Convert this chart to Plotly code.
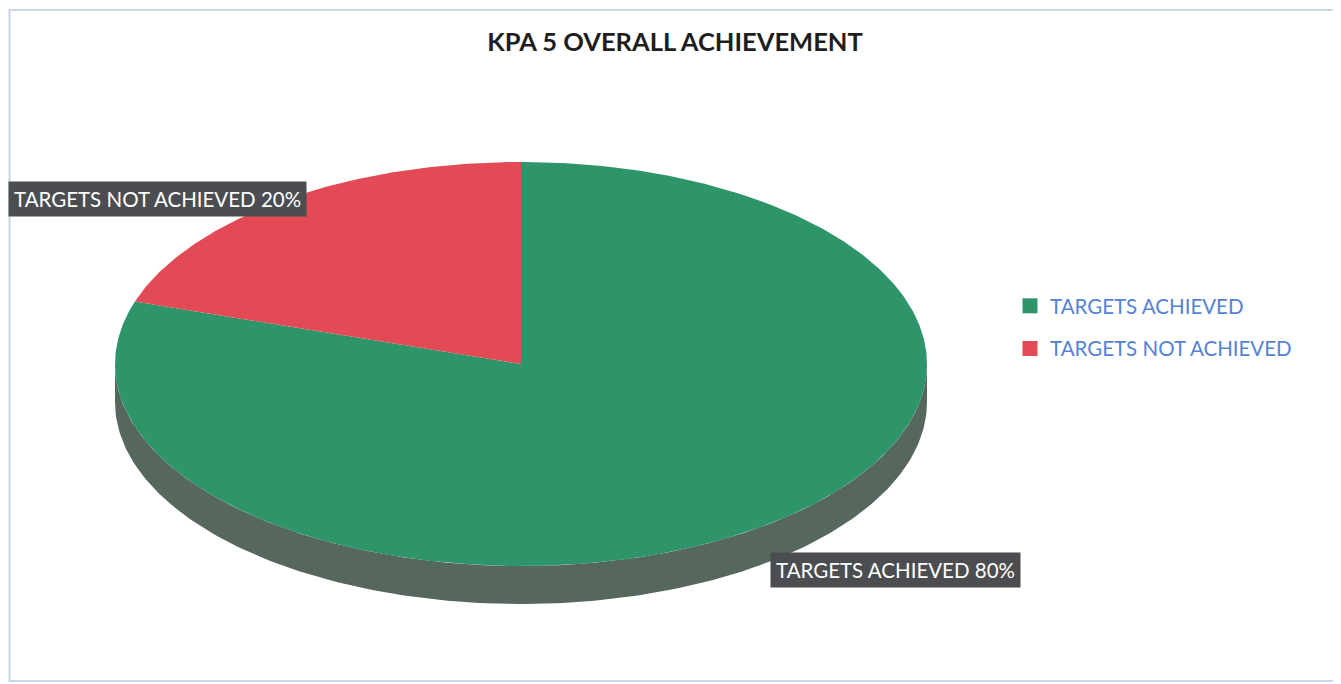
import numpy as np
import plotly.graph_objects as go

# ---- data ----
categories = ["TARGETS ACHIEVED", "TARGETS NOT ACHIEVED"]
values = [80, 20]
title_text = "KPA 5 OVERALL ACHIEVEMENT"

# ---- style ----
slice_colors = ["#2e9469", "#e24b56"]
side_color = "#56685d"
OFF = 8                      # page body margin
W, H = 1341 - OFF, 684 - OFF
CX, CY, RX, RY, DEPTH = 521, 364, 406, 202, 38
FONT = "Lato"

def px(x):   # screen x -> paper x
    return (x - OFF) / W

def py(y):   # screen y -> paper y
    return 1 - (y - OFF) / H

def ellipse_xy(theta_deg, dy=0.0):
    t = np.radians(theta_deg)
    return CX + RX * np.sin(t), CY - RY * np.cos(t) + dy

fig = go.Figure()

# side wall (front half of the disc)
th = np.linspace(90, 270, 200)
x_top, y_top = ellipse_xy(th)
x_bot, y_bot = ellipse_xy(th[::-1], DEPTH)
fig.add_trace(go.Scatter(
    x=np.concatenate([x_top, x_bot]), y=np.concatenate([y_top, y_bot]),
    fill="toself", fillcolor=side_color, mode="lines",
    line=dict(color=side_color, width=0), hoverinfo="skip", showlegend=False))

# top face slices, clockwise from 12 o'clock
total = float(sum(values))
start = 0.0
for cat, val, col in zip(categories, values, slice_colors):
    sweep = 360.0 * val / total
    th = np.linspace(start, start + sweep, max(int(sweep * 2), 10))
    xs, ys = ellipse_xy(th)
    fig.add_trace(go.Scatter(
        x=np.concatenate([[CX], xs, [CX]]), y=np.concatenate([[CY], ys, [CY]]),
        fill="toself", fillcolor=col, mode="lines",
        line=dict(color=col, width=0), hoverinfo="skip", showlegend=False))
    start += sweep

# legend entries
for cat, col in zip(categories, slice_colors):
    fig.add_trace(go.Scatter(
        x=[None], y=[None], mode="markers", name=cat, legendgroup=cat,
        marker=dict(symbol="square", size=15, color=col)))

# data labels
label_pos = [(895, 570), (157, 199)]
for cat, val, (lx, ly) in zip(categories, values, label_pos):
    fig.add_annotation(
        x=lx, y=ly, xref="x", yref="y", text=f"{cat} {val}%", showarrow=False,
        font=dict(family=FONT, size=20.5, color="white"),
        bgcolor="#4b4d50", borderpad=5, xanchor="center", yanchor="middle")

fig.update_layout(
    width=W, height=H,
    margin=dict(l=0, r=0, t=0, b=0),
    paper_bgcolor="white", plot_bgcolor="white",
    title=dict(text=f"<b>{title_text}</b>", x=px(675), xanchor="center",
               y=py(42), yanchor="middle",
               font=dict(family=FONT, size=25.5, color="#1e1e1e")),
    xaxis=dict(range=[OFF, OFF + W], visible=False, fixedrange=True),
    yaxis=dict(range=[OFF + H, OFF], visible=False, fixedrange=True),
    legend=dict(x=px(1010), y=py(286), xanchor="left", yanchor="top",
                font=dict(family=FONT, size=20.5, color="#5583d4"),
                traceorder="grouped", tracegroupgap=13,
                bgcolor="rgba(0,0,0,0)"),
    showlegend=True,
    shapes=[dict(type="rect", xref="paper", yref="paper",
                 x0=px(9.5), x1=px(1335), y0=py(681), y1=py(10),
                 line=dict(color="#c9d5ea", width=2))],
)

fig.write_html("out.html")
